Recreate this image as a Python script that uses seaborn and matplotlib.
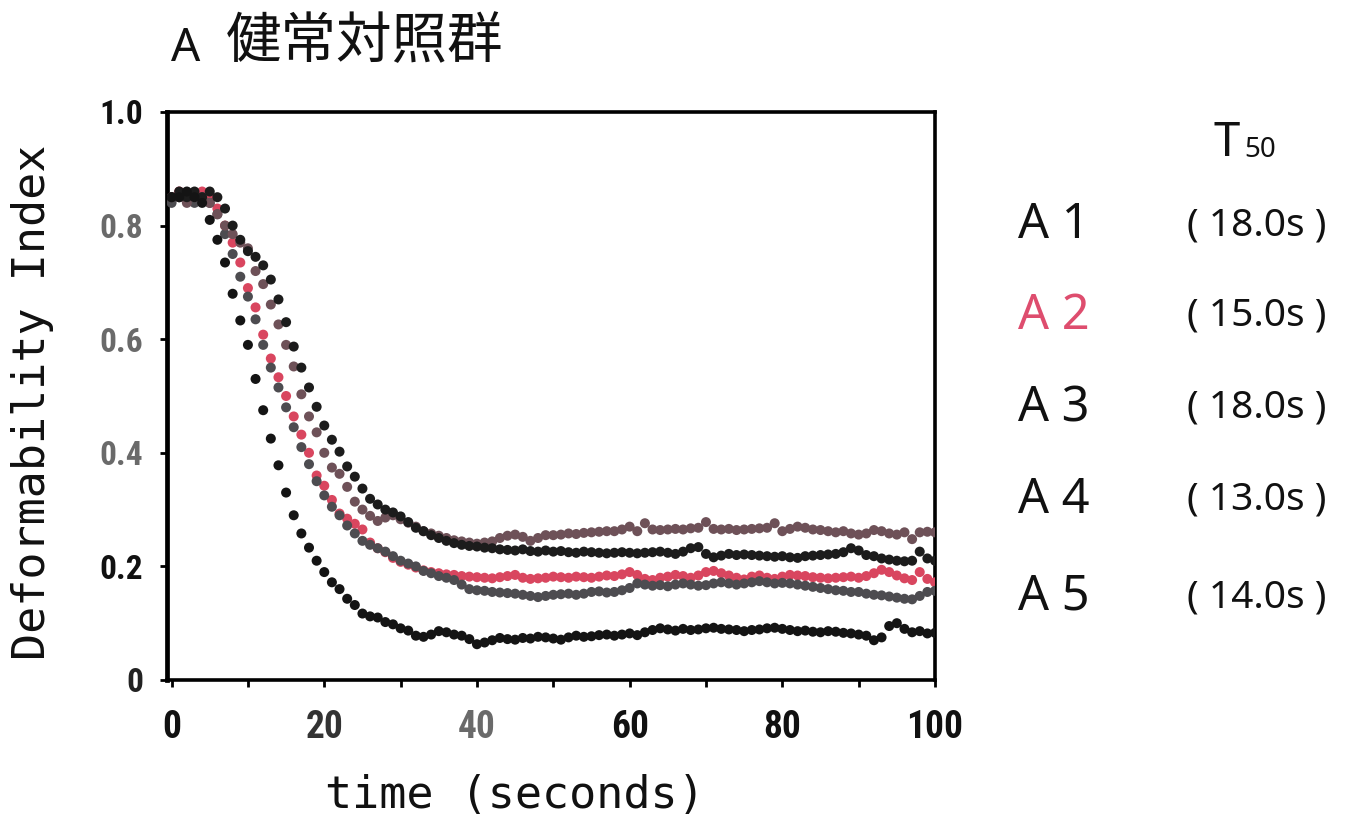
import numpy as np
import pandas as pd
import matplotlib
matplotlib.use("Agg")
import matplotlib.pyplot as plt
import seaborn as sns
from matplotlib import font_manager as fm

# ---------------- data ----------------
time = list(range(0, 101))

A1 = [0.85, 0.86, 0.85, 0.86, 0.85, 0.86, 0.85, 0.83, 0.80, 0.775,
      0.755, 0.745, 0.73, 0.705, 0.67, 0.63, 0.587, 0.55, 0.515, 0.481,
      0.448, 0.423, 0.402, 0.376, 0.358, 0.337, 0.319, 0.309, 0.30, 0.295,
      0.288, 0.278, 0.268, 0.262, 0.255, 0.25, 0.245, 0.241, 0.238, 0.236,
      0.235, 0.233, 0.232, 0.23, 0.229, 0.228, 0.23, 0.227, 0.226, 0.228,
      0.226, 0.227, 0.225, 0.224, 0.226, 0.225, 0.224, 0.223, 0.224, 0.225,
      0.224, 0.223, 0.224, 0.225, 0.226, 0.224, 0.222, 0.226, 0.232, 0.234,
      0.222, 0.216, 0.219, 0.222, 0.22, 0.221, 0.22, 0.219, 0.218, 0.217,
      0.218, 0.216, 0.215, 0.218, 0.219, 0.22, 0.221, 0.222, 0.225, 0.232,
      0.228, 0.22, 0.218, 0.214, 0.212, 0.21, 0.209, 0.21, 0.226, 0.214,
      0.21]

A2 = [0.85, 0.86, 0.85, 0.85, 0.86, 0.85, 0.83, 0.80, 0.77, 0.735,
      0.69, 0.656, 0.608, 0.566, 0.533, 0.50, 0.464, 0.432, 0.40, 0.36,
      0.342, 0.317, 0.293, 0.284, 0.275, 0.265, 0.242, 0.232, 0.225, 0.215,
      0.208, 0.203, 0.198, 0.193, 0.19, 0.188, 0.186, 0.185, 0.183, 0.182,
      0.181, 0.18, 0.179, 0.181, 0.183, 0.185, 0.18, 0.178, 0.179, 0.18,
      0.182, 0.181, 0.18, 0.182, 0.181, 0.18, 0.182, 0.184, 0.183, 0.186,
      0.19, 0.185, 0.178, 0.176, 0.18, 0.182, 0.185, 0.183, 0.18, 0.184,
      0.19, 0.192, 0.188, 0.184, 0.18, 0.177, 0.182, 0.184, 0.18, 0.178,
      0.182, 0.185, 0.184, 0.183, 0.181, 0.18, 0.179, 0.18, 0.181, 0.182,
      0.18, 0.183, 0.188, 0.194, 0.19, 0.184, 0.179, 0.176, 0.19, 0.178,
      0.172]

A3 = [0.85, 0.85, 0.84, 0.85, 0.85, 0.84, 0.82, 0.80, 0.785, 0.77,
      0.76, 0.72, 0.697, 0.661, 0.626, 0.59, 0.552, 0.503, 0.464, 0.436,
      0.40, 0.374, 0.363, 0.34, 0.314, 0.30, 0.289, 0.28, 0.286, 0.29,
      0.283, 0.277, 0.27, 0.262, 0.258, 0.254, 0.25, 0.246, 0.244, 0.242,
      0.24, 0.242, 0.244, 0.25, 0.254, 0.256, 0.252, 0.245, 0.25, 0.255,
      0.255, 0.256, 0.258, 0.257, 0.259, 0.26, 0.261, 0.262, 0.262, 0.265,
      0.27, 0.262, 0.276, 0.265, 0.264, 0.265, 0.266, 0.265, 0.267, 0.268,
      0.278, 0.266, 0.265, 0.266, 0.264, 0.265, 0.266, 0.267, 0.268, 0.276,
      0.262, 0.266, 0.27, 0.268, 0.265, 0.264, 0.262, 0.26, 0.262, 0.258,
      0.256, 0.258, 0.264, 0.262, 0.258, 0.256, 0.26, 0.248, 0.26, 0.261,
      0.26]

A4 = [0.85, 0.85, 0.86, 0.85, 0.84, 0.81, 0.775, 0.735, 0.68, 0.633,
      0.59, 0.53, 0.475, 0.425, 0.378, 0.33, 0.29, 0.258, 0.233, 0.21,
      0.19, 0.172, 0.16, 0.143, 0.132, 0.117, 0.112, 0.11, 0.102, 0.098,
      0.091, 0.087, 0.078, 0.076, 0.08, 0.086, 0.084, 0.08, 0.078, 0.072,
      0.063, 0.066, 0.07, 0.074, 0.072, 0.071, 0.074, 0.073, 0.076, 0.075,
      0.073, 0.071, 0.075, 0.078, 0.076, 0.077, 0.079, 0.08, 0.078, 0.08,
      0.082, 0.079, 0.084, 0.088, 0.091, 0.089, 0.087, 0.09, 0.088, 0.089,
      0.091, 0.092, 0.09, 0.089, 0.088, 0.086, 0.088, 0.089, 0.091, 0.092,
      0.09, 0.088, 0.086, 0.087, 0.085, 0.084, 0.086, 0.085, 0.083, 0.082,
      0.08, 0.078, 0.07, 0.075, 0.095, 0.10, 0.09, 0.084, 0.086, 0.082,
      0.083]

A5 = [0.84, 0.85, 0.85, 0.84, 0.85, 0.84, 0.82, 0.785, 0.75, 0.71,
      0.675, 0.635, 0.59, 0.55, 0.515, 0.48, 0.445, 0.41, 0.38, 0.35,
      0.325, 0.305, 0.29, 0.272, 0.258, 0.245, 0.238, 0.232, 0.226, 0.218,
      0.21, 0.205, 0.20, 0.192, 0.188, 0.183, 0.18, 0.176, 0.168, 0.16,
      0.158, 0.157, 0.155, 0.154, 0.153, 0.152, 0.15, 0.148, 0.146, 0.148,
      0.15, 0.151, 0.152, 0.15, 0.152, 0.155, 0.156, 0.154, 0.155, 0.158,
      0.162, 0.17, 0.168, 0.166, 0.167, 0.165, 0.168, 0.17, 0.168, 0.166,
      0.167, 0.17, 0.172, 0.17, 0.168, 0.17, 0.172, 0.174, 0.172, 0.17,
      0.171, 0.17, 0.168, 0.166, 0.164, 0.162, 0.16, 0.158, 0.157, 0.155,
      0.155, 0.152, 0.15, 0.149, 0.147, 0.145, 0.143, 0.142, 0.148, 0.155,
      0.157]

series_names = ["A 1", "A 2", "A 3", "A 4", "A 5"]
t50_labels = ["( 18.0s )", "( 15.0s )", "( 18.0s )", "( 13.0s )", "( 14.0s )"]
x_ticks = [0, 20, 40, 60, 80, 100]
y_ticks = [0, 0.2, 0.4, 0.6, 0.8, 1.0]
y_tick_labels = ["0", "0.2", "0.4", "0.6", "0.8", "1.0"]

# ---------------- style ----------------
sns.set_theme(style="white")

def pick(cands):
    names = {f.name for f in fm.fontManager.ttflist}
    for c in cands:
        if c in names:
            return c
    return "DejaVu Sans"

narrow = pick(["Liberation Sans Narrow", "DejaVu Sans Condensed", "Roboto Condensed", "DejaVu Sans"])
plt.rcParams["font.family"] = ["DejaVu Sans"]

W, H = 1357, 816
fig = plt.figure(figsize=(W / 100, H / 100), dpi=100)
fig.patch.set_facecolor("white")

def fx(x):
    return x / W

def fy(y):
    return 1 - y / H

ax = fig.add_axes([fx(167), fy(680), fx(935) - fx(167), fy(112) - fy(680)])

colors = {"A 1": "#1c1c1c", "A 2": "#d9465f", "A 3": "#6e5158",
          "A 4": "#141414", "A 5": "#4d4c50"}

frames = []
for name, vals in zip(series_names, [A1, A2, A3, A4, A5]):
    frames.append(pd.DataFrame({"time": time, "DI": vals, "series": name}))
df = pd.concat(frames, ignore_index=True)

order = ["A 2", "A 5", "A 3", "A 1", "A 4"]
df["series"] = pd.Categorical(df["series"], categories=order, ordered=True)
df = df.sort_values("series")

sns.scatterplot(data=df, x="time", y="DI", hue="series", hue_order=order,
                palette=colors, s=52, linewidth=0, legend=False, ax=ax, zorder=3)

ax.set_xlim(-0.6, 100)
ax.set_ylim(0, 1.0)
ax.set_xlabel("")
ax.set_ylabel("")
ax.set_xticks(list(range(0, 101, 10)))
ax.set_xticklabels([str(v) if v in x_ticks else "" for v in range(0, 101, 10)])
ax.set_yticks(y_ticks)
ax.set_yticklabels(y_tick_labels)

for sp in ax.spines.values():
    sp.set_visible(True)
    sp.set_color("black")
    sp.set_linewidth(2.6)
ax.spines["left"].set_linewidth(3.4)

ax.tick_params(axis="both", which="both", direction="out", length=5, width=2,
               color="black", bottom=True, left=True)
ax.tick_params(axis="x", pad=16)
ax.tick_params(axis="y", pad=12)

for lbl in ax.get_xticklabels():
    lbl.set_fontfamily(narrow)
    lbl.set_fontweight("bold")
    lbl.set_fontsize(27)
for lbl in ax.get_yticklabels():
    lbl.set_fontfamily(narrow)
    lbl.set_fontweight("bold")
    lbl.set_fontsize(24)

ycols = {"0": "#222222", "0.2": "#111111", "0.4": "#6a6a6a", "0.6": "#6a6a6a",
         "0.8": "#6a6a6a", "1.0": "#111111"}
for lbl in ax.get_yticklabels():
    lbl.set_color(ycols.get(lbl.get_text(), "black"))
for lbl in ax.get_xticklabels():
    if lbl.get_text() == "40":
        lbl.set_color("#6a6a6a")
    elif lbl.get_text() == "20":
        lbl.set_color("#333333")
    else:
        lbl.set_color("#111111")

# axis labels
fig.text(fx(33), fy(402), "Deformability Index", rotation=90, ha="center", va="center",
         fontsize=32.5, family="DejaVu Sans Mono", color="#111111")
fig.text(fx(515), fy(795), "time (seconds)", ha="center", va="center",
         fontsize=32.5, family="DejaVu Sans Mono", color="#111111")

# title
fig.text(fx(171), fy(49), "A", ha="left", va="center", fontsize=33,
         family=["Noto Sans", "DejaVu Sans"], color="#111111")
fig.text(fx(226), fy(42), "健常対照群", ha="left", va="center", fontsize=40,
         family=["Noto Sans CJK JP", "DejaVu Sans"], color="#111111")

# right-side annotations
fig.text(fx(1213), fy(143), "T", ha="left", va="center", fontsize=34,
         family=["Noto Sans", "DejaVu Sans"], color="#111111")
fig.text(fx(1244), fy(150), "50", ha="left", va="center", fontsize=20,
         family=["Noto Sans", "DejaVu Sans"], color="#111111")

row_y = [225, 316, 408, 500, 597]
for name, t50, yy in zip(series_names, t50_labels, row_y):
    c = "#de4d6e" if name == "A 2" else "#111111"
    fig.text(fx(1018), fy(yy), name, ha="left", va="center", fontsize=35,
             family=["Noto Sans", "DejaVu Sans"], color=c)
    fig.text(fx(1257), fy(yy), t50, ha="center", va="center", fontsize=28,
             family=["Noto Sans", "DejaVu Sans"], color="#111111")

fig.savefig("out.png", dpi=100, facecolor="white")
